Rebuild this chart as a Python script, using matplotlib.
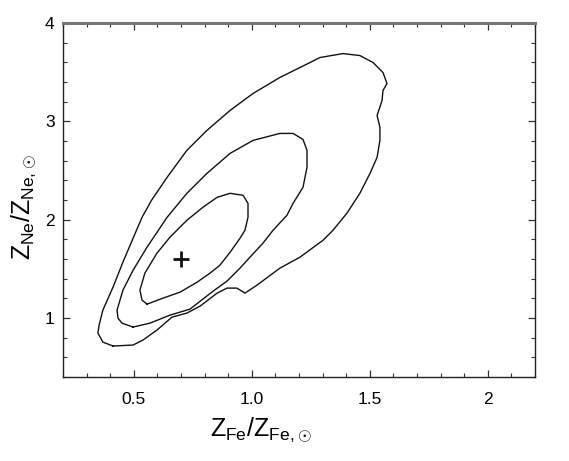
import matplotlib
matplotlib.use('Agg')
import matplotlib.pyplot as plt
import numpy as np
from matplotlib.ticker import MultipleLocator

plt.rcParams['font.family'] = ['Liberation Sans', 'DejaVu Sans']
plt.rcParams['mathtext.fontset'] = 'custom'
plt.rcParams['mathtext.rm'] = 'Liberation Sans'
plt.rcParams['mathtext.it'] = 'Liberation Sans'

# confidence contours (Z_Fe, Z_Ne)
outer_x = [0.412, 0.497, 0.539, 0.598, 0.662, 0.725, 0.781, 0.853, 0.895, 0.937,
           0.971, 1.022, 1.119, 1.204, 1.302, 1.344, 1.403, 1.458, 1.501, 1.531,
           1.543, 1.543, 1.531, 1.552, 1.556, 1.573, 1.556, 1.514, 1.458, 1.386,
           1.289, 1.204, 1.119, 1.005, 0.908, 0.810, 0.725, 0.641, 0.575, 0.535,
           0.497, 0.454, 0.412, 0.369, 0.353, 0.348, 0.369]
outer_y = [0.715, 0.725, 0.776, 0.877, 1.009, 1.050, 1.121, 1.253, 1.304, 1.304,
           1.253, 1.334, 1.507, 1.618, 1.791, 1.892, 2.065, 2.268, 2.471, 2.634,
           2.806, 2.938, 3.060, 3.212, 3.314, 3.385, 3.496, 3.598, 3.669, 3.689,
           3.649, 3.547, 3.446, 3.283, 3.111, 2.908, 2.705, 2.430, 2.197, 2.024,
           1.811, 1.568, 1.314, 1.080, 0.928, 0.847, 0.755]

mid_x = [0.497, 0.569, 0.653, 0.738, 0.836, 0.895, 0.950, 0.992, 1.047, 1.090,
         1.149, 1.175, 1.217, 1.234, 1.234, 1.217, 1.175, 1.119, 1.005, 0.908,
         0.810, 0.725, 0.641, 0.556, 0.497, 0.454, 0.429, 0.433, 0.450]
mid_y = [0.908, 0.948, 1.029, 1.090, 1.273, 1.375, 1.507, 1.618, 1.760, 1.892,
         2.045, 2.166, 2.329, 2.532, 2.705, 2.816, 2.877, 2.877, 2.806, 2.674,
         2.471, 2.268, 2.024, 1.720, 1.486, 1.283, 1.080, 0.999, 0.948]

inner_x = [0.556, 0.624, 0.696, 0.768, 0.823, 0.865, 0.908, 0.950, 0.971, 0.984,
           0.984, 0.963, 0.908, 0.853, 0.793, 0.725, 0.653, 0.598, 0.547, 0.526,
           0.535]
inner_y = [1.141, 1.202, 1.263, 1.364, 1.456, 1.537, 1.669, 1.811, 1.892, 2.024,
           2.166, 2.248, 2.268, 2.227, 2.126, 1.994, 1.821, 1.659, 1.456, 1.283,
           1.182]

best_x = [0.70]
best_y = [1.60]

fig = plt.figure(figsize=(5.69, 4.61), dpi=100)
ax = fig.add_axes([0.1107, 0.1822, 0.8295, 0.7679])

for cx, cy in [(outer_x, outer_y), (mid_x, mid_y), (inner_x, inner_y)]:
    ax.plot(cx + cx[:1], cy + cy[:1], color='#111111', lw=1.0)

ax.plot(best_x, best_y, marker='+', color='#111111', ms=11, mew=2.0, ls='none')

ax.set_xlim(0.2, 2.2)
ax.set_ylim(0.4, 4.0)
ax.set_xticks([0.5, 1.0, 1.5, 2.0])
ax.set_xticklabels(['0.5', '1.0', '1.5', '2'])
ax.set_yticks([1, 2, 3, 4])
ax.set_yticklabels(['1', '2', '3', '4'])
ax.xaxis.set_minor_locator(MultipleLocator(0.1))
ax.yaxis.set_minor_locator(MultipleLocator(0.2))
ax.tick_params(which='both', direction='in', top=True, right=True, colors='#333333')
ax.tick_params(which='major', length=5, width=0.9, labelsize=12.5, labelcolor='black')
ax.tick_params(which='minor', length=3, width=0.8)
ax.tick_params(axis='x', which='major', pad=11)
ax.tick_params(axis='y', which='major', pad=6)

for side in ['left', 'bottom', 'right']:
    ax.spines[side].set_linewidth(1.0)
    ax.spines[side].set_color('#222222')
ax.spines['top'].set_linewidth(2.2)
ax.spines['top'].set_color('#777777')

ax.set_xlabel(r'$Z_{Fe}/Z_{Fe,\!\odot}$', fontsize=18)
ax.xaxis.set_label_coords(0.42, -0.108)
ax.set_ylabel(r'$Z_{Ne}/Z_{Ne,\!\odot}$', fontsize=18)
ax.yaxis.set_label_coords(-0.052, 0.48)

fig.savefig('out.png', dpi=100)
